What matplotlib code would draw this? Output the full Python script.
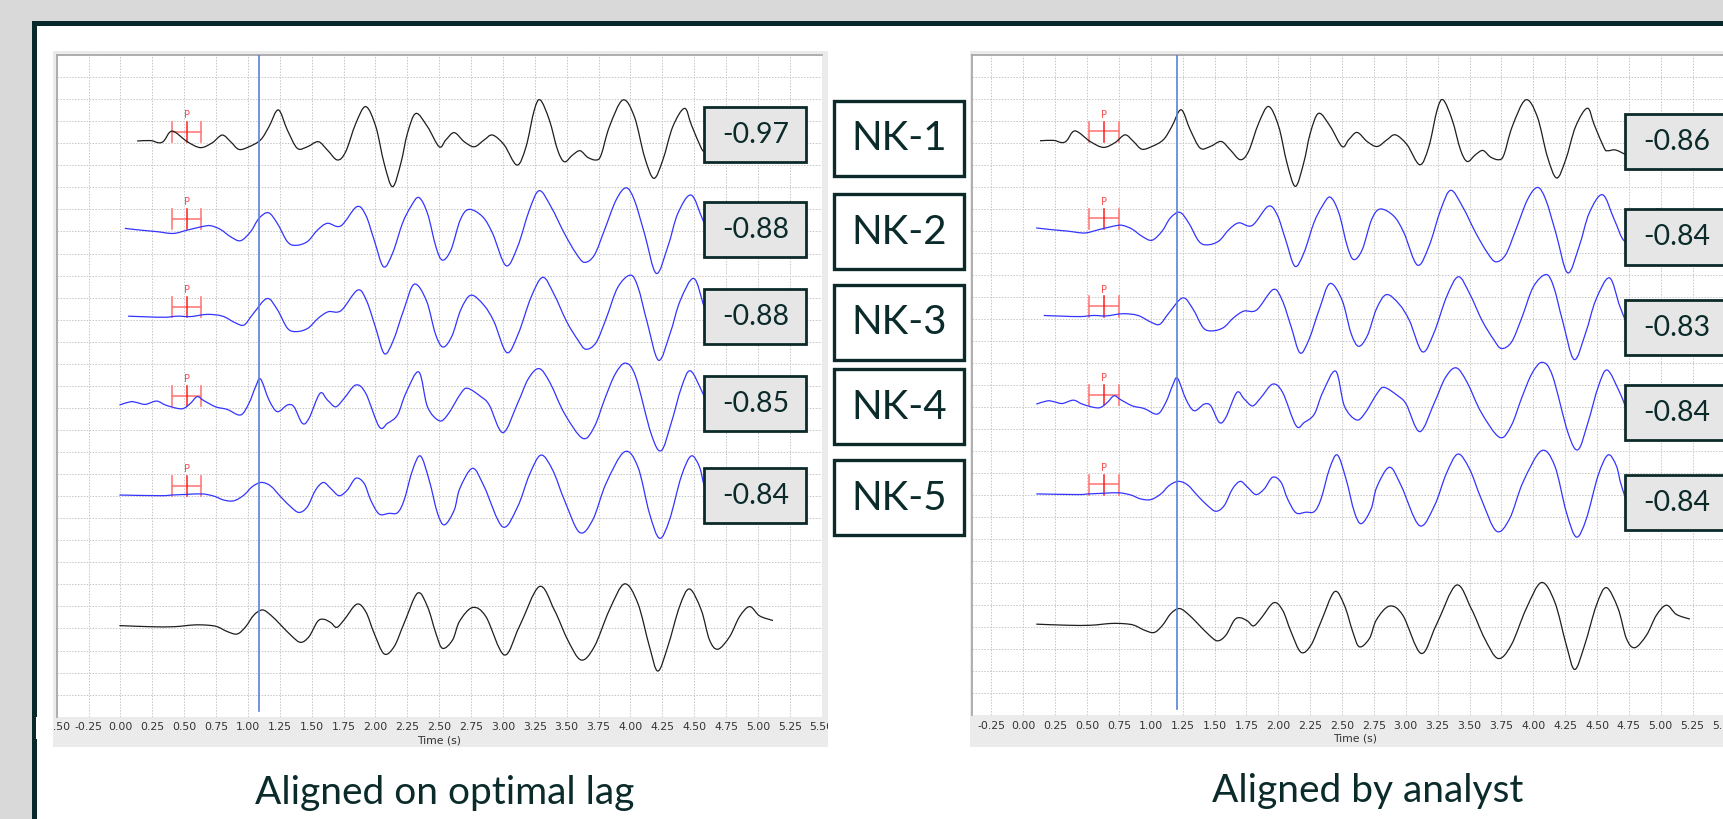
import numpy as np
import matplotlib.pyplot as plt
from matplotlib.patches import Rectangle, PathPatch
from matplotlib.path import Path

W, H = 1723, 819

# waveforms: (time s, amplitude in grid units)
nk1 = [(0.131, 0), (0.236, 0.02), (0.301, -0.08), (0.340, 0), (0.406, 0.45), (0.524, -0.03),
       (0.628, -0.30), (0.720, -0.08), (0.798, 0.27), (0.864, -0.03), (0.929, -0.38), (1.008, -0.26),
       (1.099, 0.05), (1.165, 0.65), (1.238, 1.41), (1.309, 0.50), (1.387, -0.33), (1.466, -0.26),
       (1.552, -0.03), (1.623, -0.41), (1.702, -0.86), (1.767, -0.48), (1.846, 0.80), (1.924, 1.56),
       (2.003, 0.65), (2.068, -1.01), (2.134, -2.07), (2.199, -1.01), (2.251, 0.35), (2.317, 1.25),
       (2.408, 0.65), (2.500, -0.26), (2.552, 0.05), (2.618, 0.38), (2.696, -0.03), (2.775, -0.26),
       (2.853, 0.05), (2.919, 0.27), (3.010, -0.18), (3.110, -1.09), (3.181, -0.26), (3.246, 1.41),
       (3.293, 1.86), (3.364, 0.95), (3.429, -0.41), (3.482, -0.94), (3.547, -0.63), (3.605, -0.44),
       (3.665, -0.74), (3.731, -0.86), (3.770, -0.63), (3.835, 0.65), (3.940, 1.86), (4.031, 1.10),
       (4.110, -0.71), (4.183, -1.69), (4.254, -0.86), (4.332, 0.65), (4.424, 1.48), (4.478, 0.73),
       (4.556, -0.33), (4.583, -0.45), (4.635, -0.41), (4.674, -0.48), (4.727, -0.64)]
nk2 = [(0.034, 0), (0.157, -0.08), (0.288, -0.15), (0.414, -0.23), (0.524, -0.08), (0.641, 0.08),
       (0.707, 0.12), (0.785, -0.05), (0.864, -0.38), (0.942, -0.56), (1.021, -0.15), (1.086, 0.45),
       (1.160, 0.71), (1.230, 0.23), (1.309, -0.60), (1.374, -0.77), (1.466, -0.60), (1.545, -0.08),
       (1.623, 0.23), (1.728, 0.11), (1.853, 0.98), (1.924, 0.60), (1.990, -0.53), (2.063, -1.74),
       (2.134, -1.13), (2.212, 0.23), (2.277, 0.98), (2.340, 1.40), (2.408, 0.68), (2.474, -0.83),
       (2.525, -1.44), (2.592, -0.98), (2.665, 0.38), (2.733, 0.86), (2.840, 0.53), (2.919, -0.23),
       (3.024, -1.69), (3.115, -0.83), (3.207, 0.83), (3.285, 1.71), (3.377, 0.98), (3.482, -0.23),
       (3.573, -1.13), (3.639, -1.54), (3.717, -1.21), (3.796, -0.08), (3.887, 1.28), (3.966, 1.84),
       (4.031, 1.28), (4.110, -0.23), (4.202, -2.04), (4.293, -0.83), (4.372, 0.68), (4.476, 1.51),
       (4.568, 0.38), (4.65, -0.60), (4.75, -0.20), (4.85, 0.60), (4.92, 0.86), (5.0, 0.30)]
nk3 = [(0.06, 0), (0.20, -0.03), (0.35, -0.05), (0.45, 0), (0.55, -0.02), (0.68, 0.08), (0.80, 0.0),
       (0.90, -0.30), (0.97, -0.40), (1.04, 0.10), (1.15, 0.80), (1.23, 0.30), (1.31, -0.55),
       (1.38, -0.70), (1.47, -0.55), (1.55, -0.10), (1.63, 0.20), (1.73, 0.25), (1.86, 1.18),
       (1.93, 0.70), (2.00, -0.50), (2.07, -1.70), (2.14, -1.10), (2.22, 0.25), (2.304, 1.45),
       (2.40, 0.70), (2.47, -0.80), (2.53, -1.40), (2.60, -0.90), (2.67, 0.30), (2.749, 0.95),
       (2.85, 0.50), (2.93, -0.25), (3.03, -1.65), (3.12, -0.80), (3.22, 0.85), (3.312, 1.76),
       (3.40, 1.00), (3.50, -0.25), (3.59, -1.10), (3.65, -1.50), (3.73, -1.20), (3.81, -0.10),
       (3.90, 1.30), (4.00, 1.86), (4.06, 1.30), (4.13, -0.25), (4.22, -2.00), (4.31, -0.80),
       (4.39, 0.70), (4.497, 1.71), (4.58, 0.40), (4.66, -0.60), (4.75, -0.30)]
nk4 = [(-0.008, 0), (0.079, 0.15), (0.131, 0.11), (0.196, 0.03), (0.283, 0.18), (0.353, 0),
       (0.445, -0.15), (0.497, -0.15), (0.550, 0.08), (0.602, 0.38), (0.654, 0.20), (0.746, -0.08),
       (0.838, -0.20), (0.942, -0.45), (1.008, 0.08), (1.060, 0.83), (1.099, 1.18), (1.165, 0.23),
       (1.230, -0.30), (1.309, 0), (1.361, -0.08), (1.427, -0.83), (1.479, -0.60), (1.565, 0.53),
       (1.623, 0.23), (1.688, -0.08), (1.754, 0.30), (1.846, 0.91), (1.924, 0.53), (2.029, -0.98),
       (2.094, -0.83), (2.173, -0.45), (2.238, 0.53), (2.34, 1.50), (2.408, -0.08), (2.500, -0.71),
       (2.565, -0.45), (2.670, 0.53), (2.723, 0.76), (2.827, 0.38), (2.893, 0), (3.0, -1.25),
       (3.115, 0.08), (3.20, 1.20), (3.285, 1.65), (3.37, 1.00), (3.482, -0.38), (3.626, -1.51),
       (3.717, -0.98), (3.80, 0.30), (3.88, 1.40), (3.96, 1.90), (4.04, 1.30), (4.162, -1.30),
       (4.241, -2.07), (4.319, -0.83), (4.40, 0.80), (4.47, 1.55), (4.568, 0.53), (4.65, -0.50),
       (4.75, -0.30)]
nk5 = [(-0.008, 0), (0.314, -0.03), (0.406, 0), (0.524, 0.03), (0.641, 0.05), (0.733, -0.05),
       (0.812, -0.23), (0.890, -0.26), (0.969, 0), (1.034, 0.38), (1.105, 0.57), (1.178, 0.41),
       (1.257, -0.08), (1.335, -0.53), (1.401, -0.79), (1.466, -0.53), (1.531, 0.23), (1.592, 0.57),
       (1.649, 0.30), (1.715, -0.03), (1.780, 0.23), (1.846, 0.76), (1.911, 0.53), (1.963, -0.23),
       (2.029, -0.86), (2.107, -0.83), (2.173, -0.80), (2.225, -0.23), (2.291, 1.13), (2.353, 1.77),
       (2.421, 0.68), (2.487, -0.83), (2.542, -1.35), (2.618, -0.68), (2.662, 0.30), (2.762, 1.21),
       (2.853, 0.38), (2.997, -1.44), (3.115, -0.53), (3.207, 0.91), (3.298, 1.81), (3.390, 1.13),
       (3.482, -0.23), (3.600, -1.69), (3.704, -1.13), (3.809, 0.53), (3.953, 1.96), (4.058, 1.28),
       (4.149, -0.83), (4.228, -1.96), (4.306, -1.13), (4.398, 0.83), (4.476, 1.77), (4.541, 1.28),
       (4.581, 0.38), (4.65, -0.60), (4.75, -0.40)]
ref = [(-0.008, 0), (0.236, -0.05), (0.419, -0.05), (0.576, 0.03), (0.681, 0.02), (0.759, -0.05),
       (0.838, -0.27), (0.916, -0.38), (0.982, -0.05), (1.047, 0.48), (1.113, 0.71), (1.178, 0.48),
       (1.257, 0.03), (1.348, -0.50), (1.414, -0.76), (1.479, -0.50), (1.545, 0.18), (1.592, 0.29),
       (1.649, 0.14), (1.696, -0.08), (1.754, 0.26), (1.853, 0.97), (1.924, 0.63), (1.990, -0.35),
       (2.068, -1.28), (2.147, -0.95), (2.225, 0.11), (2.330, 1.47), (2.408, 0.86), (2.474, -0.35),
       (2.526, -1.03), (2.605, -0.65), (2.660, 0.20), (2.762, 0.82), (2.866, 0.41), (3.010, -1.33),
       (3.128, -0.05), (3.285, 1.77), (3.403, 0.71), (3.508, -0.65), (3.613, -1.56), (3.717, -0.95),
       (3.835, 0.71), (3.953, 1.89), (4.058, 1.01), (4.149, -0.95), (4.215, -2.06), (4.293, -0.95),
       (4.385, 0.86), (4.463, 1.66), (4.555, 0.71), (4.620, -0.65), (4.686, -1.07), (4.778, -0.50),
       (4.856, 0.41), (4.935, 0.86), (5.013, 0.44), (5.118, 0.23)]

traces = [nk1, nk2, nk3, nk4, nk5, ref]
trace_colors = ['#1e1e1e', '#3434ff', '#3434ff', '#3434ff', '#3434ff', '#1e1e1e']
baselines = [26.1, 22.14, 18.16, 14.13, 10.05, 4.13]
shift_right = [0.0, 0.067, 0.10, 0.11, 0.11, 0.11]
has_pick = [True, True, True, True, True, False]

station_names = ['NK-1', 'NK-2', 'NK-3', 'NK-4', 'NK-5']
corr_left = ['-0.97', '-0.88', '-0.88', '-0.85', '-0.84']
corr_right = ['-0.86', '-0.84', '-0.83', '-0.84', '-0.84']

pick_left, pick_right = 0.52, 0.634
marker_left, marker_right = 1.087, 1.207

text_col = '#0b2b2b'

fig = plt.figure(figsize=(W / 100, H / 100), dpi=100)
fig.patch.set_facecolor('#d9d9d9')


def px_axes(x0, y0, x1, y1):
    return fig.add_axes([x0 / W, 1 - y1 / H, (x1 - x0) / W, (y1 - y0) / H])


bg = px_axes(0, 0, W, H)
bg.set_xlim(0, W)
bg.set_ylim(H, 0)
bg.axis('off')
bg.add_patch(Rectangle((33.5, 22.5), W, H, facecolor='white', edgecolor='#08292a', lw=3.6))
bg.add_patch(Rectangle((53, 51), 775, 696, facecolor='#ebebeb', edgecolor='none'))
bg.add_patch(Rectangle((970, 51), 800, 696, facecolor='#ebebeb', edgecolor='none'))


def setup(ax, xlim, ticks):
    ax.set_xlim(*xlim)
    ax.set_ylim(0, 30)
    ax.set_xticks(ticks)
    ax.set_xticklabels([f'{v:.2f}' for v in ticks], fontsize=7.8, color='#333333')
    ax.set_yticks(np.arange(0, 31, 1))
    ax.set_yticklabels([])
    ax.tick_params(length=0, pad=4)
    ax.grid(True, color='#c6c6c6', lw=0.7, linestyle=(0, (1.5, 1.5)))
    ax.set_axisbelow(True)
    for s in ['bottom', 'right']:
        ax.spines[s].set_visible(False)
    for s in ['top', 'left']:
        ax.spines[s].set_color('#a9a9a9')
        ax.spines[s].set_linewidth(1.3)
    ax.set_xlabel('Time (s)', fontsize=7.8, color='#333333', labelpad=2)


def smooth_line(ax, x, y, color):
    # draw a rounded line through the read points (Bezier segments)
    pts = np.column_stack([x, y])
    n = len(pts)
    verts = [pts[0]]
    codes = [Path.MOVETO]
    for i in range(n - 1):
        p0 = pts[max(i - 1, 0)]
        p1 = pts[i]
        p2 = pts[i + 1]
        p3 = pts[min(i + 2, n - 1)]
        verts += [p1 + (p2 - p0) / 6, p2 - (p3 - p1) / 6, p2]
        codes += [Path.CURVE4] * 3
    ax.add_patch(PathPatch(Path(verts, codes), fill=False, edgecolor=color, lw=0.9, zorder=3))


def pick(ax, t, base):
    lc = '#ff7b7b'
    ax.plot([t - 0.115, t + 0.115], [base + 0.43] * 2, color=lc, lw=1.2)
    for x in (t - 0.115, t + 0.115):
        ax.plot([x, x], [base - 0.05, base + 0.87], color=lc, lw=1.2)
    ax.plot([t, t], [base - 0.05, base + 0.87], color='#ff1e1e', lw=1.1)
    ax.text(t, base + 0.95, 'P', color='#ff4a4a', fontsize=7, ha='center', va='bottom')


axL = px_axes(56.7, 55, 821.7, 716.7)
axR = px_axes(972.3, 55, 1737.3, 715)
setup(axL, (-0.5, 5.5), np.arange(-0.5, 5.51, 0.25))
setup(axR, (-0.4, 5.6), np.arange(-0.25, 5.51, 0.25))

for ax, panel in ((axL, 0), (axR, 1)):
    for k, tr in enumerate(traces):
        t = np.array([p[0] for p in tr]) + (shift_right[k] if panel else 0.0)
        a = np.array([p[1] for p in tr])
        smooth_line(ax, t, baselines[k] + a, trace_colors[k])
        if has_pick[k]:
            pick(ax, pick_right if panel else pick_left, baselines[k])
    mt = marker_right if panel else marker_left
    ax.plot([mt, mt], [0.27, 30], color='#5a80d8', lw=1.2, zorder=4)

ov = px_axes(0, 0, W, H)
ov.set_xlim(0, W)
ov.set_ylim(H, 0)
ov.axis('off')
# hide the tick labels outside the left plot panel
ov.add_patch(Rectangle((36, 717), 17, 22, facecolor='white', edgecolor='none'))
ov.add_patch(Rectangle((828, 717), 14, 22, facecolor='white', edgecolor='none'))

nk_tops = [100.7, 194.3, 285, 369.3, 460]
for name, top in zip(station_names, nk_tops):
    ov.add_patch(Rectangle((834.3, top), 130, 75, facecolor='white', edgecolor='#0d2a2a', lw=2.4))
    ov.text(899.3, top + 38, name, fontsize=29, family='Lato', color=text_col, ha='center', va='center')

left_tops = [106.7, 201.7, 289.3, 375.8, 468.3]
for val, top in zip(corr_left, left_tops):
    ov.add_patch(Rectangle((704, top), 101.7, 55, facecolor='#e6e6e6', edgecolor='#0d2a2a', lw=2))
    ov.text(756, top + 28, val, fontsize=20.5, family='Lato', color=text_col, ha='center', va='center')

right_tops = [114, 209.3, 300, 385, 475]
for val, top in zip(corr_right, right_tops):
    ov.add_patch(Rectangle((1625, top), 103, 55.3, facecolor='#e6e6e6', edgecolor='#0d2a2a', lw=2))
    ov.text(1677, top + 28, val, fontsize=20.5, family='Lato', color=text_col, ha='center', va='center')

ov.text(445, 793, 'Aligned on optimal lag', fontsize=28, family='Lato', color=text_col,
        ha='center', va='center')
ov.text(1368, 791, 'Aligned by analyst', fontsize=28, family='Lato', color=text_col,
        ha='center', va='center')

fig.savefig('out.png', dpi=100, facecolor=fig.get_facecolor())
